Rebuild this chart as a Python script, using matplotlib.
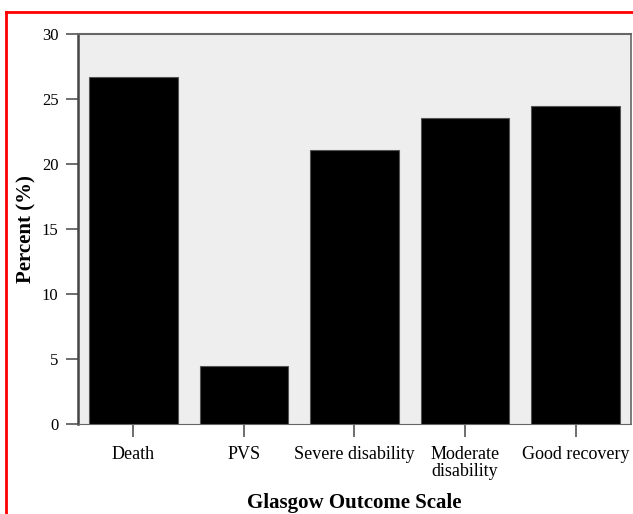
import matplotlib
matplotlib.use("Agg")
import matplotlib.pyplot as plt
from matplotlib.lines import Line2D

categories = ["Death", "PVS", "Severe disability", "Moderate\ndisability", "Good recovery"]
values = [26.7, 4.5, 21.05, 23.55, 24.45]
yticks = [0, 5, 10, 15, 20, 25, 30]

plt.rcParams['font.family'] = ['Liberation Serif', 'DejaVu Serif']

W, H = 633, 514
fig = plt.figure(figsize=(W/100, H/100), dpi=100)
ax = fig.add_axes([78/W, 1-424/H, (631-78)/W, (424-34)/H])
ax.set_facecolor('#eeeeee')

x = list(range(len(categories)))
ax.bar(x, values, width=0.8, color='black', edgecolor='#555555', linewidth=0.8, zorder=3)
ax.set_xlim(-0.5, len(categories)-0.5)
ax.set_ylim(0, 30)
ax.set_yticks(yticks)
ax.set_yticklabels([str(v) for v in yticks], fontsize=12)
ax.set_xticks(x)
ax.set_xticklabels(categories, fontsize=13, linespacing=0.95)

ax.tick_params(axis='y', direction='out', length=9, width=1.2, color='#555555', pad=5)
ax.tick_params(axis='x', direction='out', length=9, width=1.2, color='#555555', pad=7)

for side in ['left', 'top', 'right', 'bottom']:
    ax.spines[side].set_color('#666666')
ax.spines['left'].set_linewidth(1.8)
ax.spines['left'].set_color('#444444')
ax.spines['top'].set_linewidth(1.5)
ax.spines['right'].set_linewidth(1.2)
ax.spines['bottom'].set_linewidth(0.8)

ax.set_ylabel("Percent (%)", fontsize=15, fontweight='bold', labelpad=4)
ax.set_xlabel("Glasgow Outcome Scale", fontsize=15, fontweight='bold', labelpad=10)

# red frame (left and top edges)
fig.add_artist(Line2D([6/W, 6/W], [0, 1-12/H], color='red', linewidth=2, transform=fig.transFigure))
fig.add_artist(Line2D([6/W, 1], [1-12/H, 1-12/H], color='red', linewidth=2, transform=fig.transFigure))

fig.savefig("out.png", dpi=100)
